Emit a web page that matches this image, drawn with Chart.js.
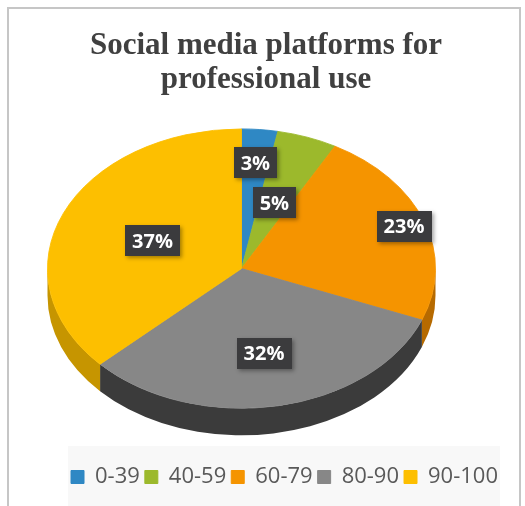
<!DOCTYPE html>
<html>
<head>
<meta charset="utf-8">
<script src="https://cdn.jsdelivr.net/npm/chart.js@4"></script>
<style>
  html, body { margin: 0; padding: 0; background: #fff; }
  body { width: 525px; height: 506px; overflow: hidden; position: relative; }
  .frame {
    position: absolute; left: 7px; top: 7px;
    width: 510px; height: 520px;
    border: 2px solid #c6c6c6;
  }
  .frame canvas { position: absolute; left: 0; top: 0; }
</style>
</head>
<body>
<div class="frame">
  <canvas id="chart" width="510" height="497"></canvas>
</div>
<script>
const categories = ['0-39', '40-59', '60-79', '80-90', '90-100'];
const shares = [3, 5, 23, 32, 37];
const colors = ['#2f88c4', '#9cb92c', '#f59400', '#878787', '#fdbf00'];
const sideColors = ['#21628f', '#6f871c', '#b66a00', '#3b3b3b', '#c69500'];

// fakes a tilted 3D pie: squashes the flat pie into an ellipse and extrudes the front walls
const tiltedPie = {
  id: 'tiltedPie',
  beforeDatasetsDraw(chart, args, opts) {
    const ctx = chart.ctx;
    const arcs = chart.getDatasetMeta(0).data;
    if (!arcs.length) return;
    const a = arcs[0];
    const area = chart.chartArea;
    const rx = a.outerRadius;
    const ry = rx * opts.tilt;
    const cx = a.x + opts.offsetX;
    const cy = (area.top + area.bottom) / 2 - opts.depth / 2 + opts.offsetY;
    chart.$tilt = { cx, cy, rx, ry };

    // side walls, only the part facing the viewer (0..PI)
    arcs.forEach((arc, i) => {
      const s = Math.max(arc.startAngle, 0);
      const e = Math.min(arc.endAngle, Math.PI);
      if (e <= s) return;
      ctx.beginPath();
      ctx.ellipse(cx, cy, rx, ry, 0, s, e);
      ctx.ellipse(cx, cy + opts.depth, rx, ry, 0, e, s, true);
      ctx.closePath();
      ctx.fillStyle = sideColors[i];
      ctx.fill();
    });

    ctx.save();
    ctx.translate(cx, cy);
    ctx.scale(1, opts.tilt);
    ctx.translate(-a.x, -a.y);
  },
  afterDatasetsDraw(chart, args, opts) {
    const ctx = chart.ctx;
    ctx.restore();
    const t = chart.$tilt;
    if (!t) return;
    const arcs = chart.getDatasetMeta(0).data;
    ctx.font = 'bold 20px "Open Sans"';
    ctx.textAlign = 'center';
    ctx.textBaseline = 'middle';
    arcs.forEach((arc, i) => {
      const mid = (arc.startAngle + arc.endAngle) / 2;
      const f = opts.labelRadius[i];
      const x = t.cx + Math.cos(mid) * t.rx * f;
      const y = t.cy + Math.sin(mid) * t.ry * f;
      const text = shares[i] + '%';
      const w = ctx.measureText(text).width + 14;
      const h = 31;
      ctx.save();
      ctx.shadowColor = 'rgba(0,0,0,0.35)';
      ctx.shadowBlur = 4;
      ctx.shadowOffsetX = 2;
      ctx.shadowOffsetY = 2;
      ctx.fillStyle = '#3b3b3d';
      ctx.fillRect(Math.round(x - w / 2), Math.round(y - h / 2), Math.round(w), h);
      ctx.restore();
      ctx.fillStyle = '#ffffff';
      ctx.fillText(text, x, y + 1);
    });
  }
};

// pale panel behind the legend row
const legendPanel = {
  id: 'legendPanel',
  beforeDraw(chart) {
    const lg = chart.legend;
    if (!lg || !lg.legendHitBoxes.length) return;
    const boxes = lg.legendHitBoxes;
    const left = boxes[0].left - 3;
    const last = boxes[boxes.length - 1];
    const right = last.left + last.width + 2;
    const ctx = chart.ctx;
    ctx.save();
    ctx.fillStyle = '#f8f8f8';
    ctx.fillRect(left, boxes[0].top - 20, right - left, chart.height);
    ctx.restore();
  }
};

new Chart(document.getElementById('chart'), {
  type: 'pie',
  data: {
    labels: categories,
    datasets: [{
      data: shares,
      backgroundColor: colors,
      borderColor: colors,
      borderWidth: 1,
      radius: 194,
      clip: false
    }]
  },
  options: {
    responsive: false,
    animation: false,
    events: [],
    layout: { padding: { left: 20, right: 16, top: 0, bottom: 8 } },
    plugins: {
      title: {
        display: true,
        text: ['Social media platforms for', 'professional use'],
        color: '#404040',
        font: { family: '"Liberation Serif", serif', size: 31, weight: 'bold', lineHeight: 1.1 },
        padding: { top: 20, bottom: 0 }
      },
      legend: {
        position: 'bottom',
        align: 'end',
        labels: {
          boxWidth: 13,
          boxHeight: 13,
          padding: 5,
          color: '#595959',
          font: { family: '"Open Sans", sans-serif', size: 22 }
        }
      },
      tooltip: { enabled: false },
      tiltedPie: {
        tilt: 0.72,
        depth: 27,
        offsetX: -24.5,
        offsetY: 3,
        labelRadius: [0.76, 0.5, 0.89, 0.62, 0.5]
      }
    }
  },
  plugins: [legendPanel, tiltedPie]
});
</script>
</body>
</html>
